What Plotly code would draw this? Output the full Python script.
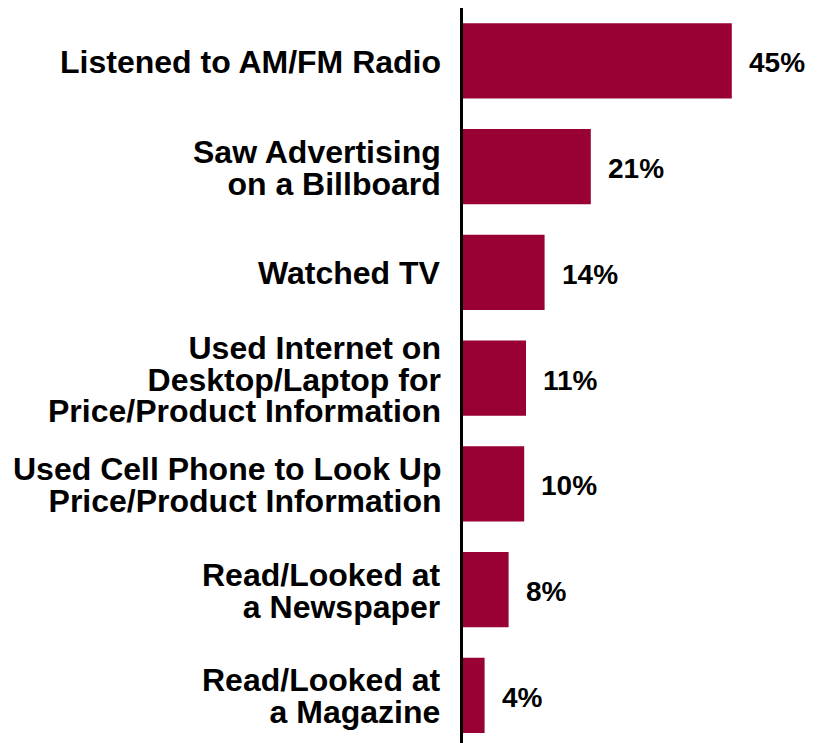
import plotly.graph_objects as go

categories = [
    "Listened to AM/FM Radio",
    "Saw Advertising<br>on a Billboard",
    "Watched TV",
    "Used Internet on<br>Desktop/Laptop for<br>Price/Product Information",
    "Used Cell Phone to Look Up<br>Price/Product Information",
    "Read/Looked at<br>a Newspaper",
    "Read/Looked at<br>a Magazine",
]
values = [44.8, 21.3, 13.6, 10.5, 10.2, 7.6, 3.6]
value_labels = ["45%", "21%", "14%", "11%", "10%", "8%", "4%"]

BAR_COLOR = "#990033"
FONT = "Liberation Sans, Arial, sans-serif"

fig = go.Figure(
    go.Bar(
        x=values,
        y=categories,
        orientation="h",
        marker=dict(color=BAR_COLOR, line=dict(width=0)),
        hoverinfo="skip",
    )
)

# value labels
for cat, val, lab in zip(categories, values, value_labels):
    fig.add_annotation(
        x=val, y=cat, text=f"<b>{lab}</b>", showarrow=False,
        xanchor="left", yanchor="middle", xshift=15, yshift=-2,
        font=dict(family=FONT, size=28, color="#000000"),
    )

# category labels: base font sets the (tight) line spacing, inner span sets glyph size
for cat in categories:
    lines = cat.split("<br>")
    text = "<br>".join(
        f"<span style='font-size:32px'><b>{line}</b></span>" for line in lines
    )
    fig.add_annotation(
        xref="paper", x=0, y=cat, text=text, showarrow=False,
        xanchor="right", yanchor="middle", align="right", xshift=-20, yshift=-1,
        font=dict(family=FONT, size=24.3, color="#000000"),
    )

fig.update_layout(
    width=819, height=743,
    margin=dict(l=455, r=10, t=0, b=8, autoexpand=False),
    paper_bgcolor="white", plot_bgcolor="white",
    bargap=0.29,
    showlegend=False,
    font=dict(family=FONT, color="#000000"),
)
fig.update_xaxes(
    range=[0, 59], showgrid=False, zeroline=False, showticklabels=False,
    ticks="", showline=False, fixedrange=True, automargin=False,
)
fig.update_yaxes(
    type="category", categoryorder="array", categoryarray=categories,
    range=[6.45, -0.5], showgrid=False, zeroline=False,
    showline=True, linecolor="#000000", linewidth=3,
    ticks="", showticklabels=False, automargin=False,
    fixedrange=True,
)

fig.write_html("out.html")
